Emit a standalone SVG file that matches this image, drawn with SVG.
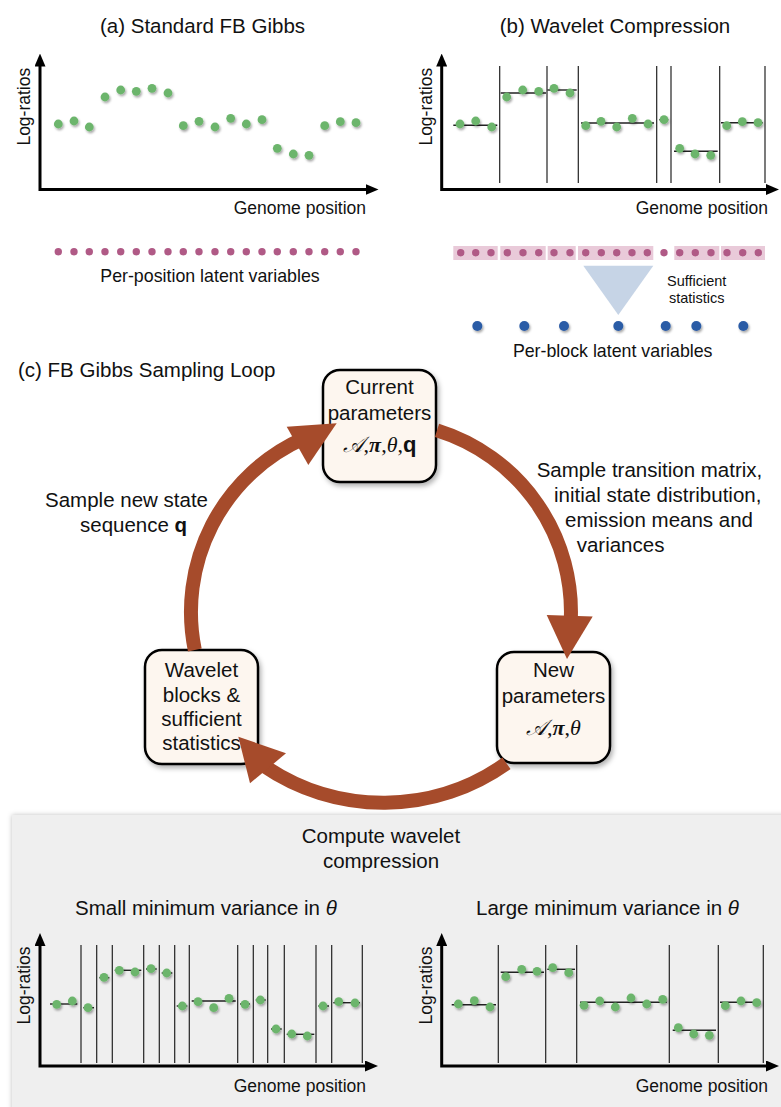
<svg xmlns="http://www.w3.org/2000/svg" width="781" height="1107" viewBox="0 0 781 1107">
<defs>
<style>
text{font-family:"Liberation Sans",Arial,sans-serif;fill:#111}
.t{font-size:20.5px}
.s{font-size:17.5px}
.m{font-size:17.8px}
.xs{font-size:14.5px}
.c{text-anchor:middle}
.mt{font-size:22px}
.ax{fill:none;stroke:#000;stroke-width:3;marker-start:url(#ah);marker-end:url(#ah)}
.g{fill:#6cb56c;filter:url(#ds)}
.p{fill:#b05a86}
.b{fill:#2b5ca6;filter:url(#ds)}
.blk{fill:#e9cad9}
.seg{stroke:#222;stroke-width:1.4}
.vl{stroke:#222;stroke-width:1.2}
.box{fill:#fdf6ef;stroke:#000;stroke-width:2.5;filter:url(#bs)}
.arc{fill:none;stroke:#a64b2b;stroke-width:14}
.head{fill:#a64b2b}
.ser{font-family:"Liberation Serif","DejaVu Serif",serif}
</style>
<marker id="ah" viewBox="0 0 13 11" refX="3" refY="5.5" markerWidth="13" markerHeight="11" markerUnits="userSpaceOnUse" orient="auto-start-reverse"><path d="M0,0 L13,5.5 L0,11 z" fill="#000"/></marker>
<filter id="ds" x="-60%" y="-60%" width="220%" height="220%"><feDropShadow dx="1.2" dy="1.8" stdDeviation="1.2" flood-color="#000" flood-opacity="0.35"/></filter>
<filter id="bs" x="-20%" y="-20%" width="140%" height="140%"><feDropShadow dx="2" dy="3" stdDeviation="2.5" flood-color="#000" flood-opacity="0.3"/></filter>
<filter id="ps" x="-5%" y="-5%" width="110%" height="110%"><feDropShadow dx="0" dy="0" stdDeviation="2.5" flood-color="#000" flood-opacity="0.25"/></filter>
</defs>
<rect width="781" height="1107" fill="#fff"/>

<!-- Panel (a) -->
<g id="panel-a">
<text class="t c" x="202.5" y="33">(a) Standard FB Gibbs</text>
<polyline class="ax" points="40,63.5 40,189.5 368.5,189.5"/>
<text class="s c" transform="translate(30,106.7) rotate(-90)">Log-ratios</text>
<text class="s" x="366" y="214" text-anchor="end">Genome position</text>
<g>
<circle class="g" cx="58.3" cy="124" r="4.4"/><circle class="g" cx="74" cy="121" r="4.4"/><circle class="g" cx="89.3" cy="127" r="4.4"/><circle class="g" cx="105" cy="97" r="4.4"/><circle class="g" cx="120.7" cy="90" r="4.4"/><circle class="g" cx="136.3" cy="91.3" r="4.4"/><circle class="g" cx="152" cy="88.3" r="4.4"/><circle class="g" cx="168" cy="93" r="4.4"/><circle class="g" cx="183.3" cy="125.7" r="4.4"/><circle class="g" cx="199" cy="121.3" r="4.4"/><circle class="g" cx="215" cy="127" r="4.4"/><circle class="g" cx="230.7" cy="118.3" r="4.4"/><circle class="g" cx="246.3" cy="124" r="4.4"/><circle class="g" cx="262" cy="119.7" r="4.4"/><circle class="g" cx="277.3" cy="148.3" r="4.4"/><circle class="g" cx="293.3" cy="154" r="4.4"/><circle class="g" cx="309" cy="155.3" r="4.4"/><circle class="g" cx="324.7" cy="125.7" r="4.4"/><circle class="g" cx="340.3" cy="121.7" r="4.4"/><circle class="g" cx="356" cy="122.7" r="4.4"/>
</g>
<g>
<circle class="p" cx="58.3" cy="251.7" r="3.7"/><circle class="p" cx="74" cy="251.7" r="3.7"/><circle class="p" cx="89.3" cy="251.7" r="3.7"/><circle class="p" cx="105" cy="251.7" r="3.7"/><circle class="p" cx="120.7" cy="251.7" r="3.7"/><circle class="p" cx="136.3" cy="251.7" r="3.7"/><circle class="p" cx="152" cy="251.7" r="3.7"/><circle class="p" cx="168" cy="251.7" r="3.7"/><circle class="p" cx="183.3" cy="251.7" r="3.7"/><circle class="p" cx="199" cy="251.7" r="3.7"/><circle class="p" cx="215" cy="251.7" r="3.7"/><circle class="p" cx="230.7" cy="251.7" r="3.7"/><circle class="p" cx="246.3" cy="251.7" r="3.7"/><circle class="p" cx="262" cy="251.7" r="3.7"/><circle class="p" cx="277.3" cy="251.7" r="3.7"/><circle class="p" cx="293.3" cy="251.7" r="3.7"/><circle class="p" cx="309" cy="251.7" r="3.7"/><circle class="p" cx="324.7" cy="251.7" r="3.7"/><circle class="p" cx="340.3" cy="251.7" r="3.7"/><circle class="p" cx="356" cy="251.7" r="3.7"/>
</g>
<text class="m c" x="210" y="281.7">Per-position latent variables</text>
</g>

<!-- Panel (b) -->
<g id="panel-b">
<text class="t c" x="615" y="33">(b) Wavelet Compression</text>
<g>
<line class="vl" x1="499.7" y1="66" x2="499.7" y2="183"/><line class="vl" x1="547" y1="66" x2="547" y2="183"/><line class="vl" x1="578.3" y1="66" x2="578.3" y2="183"/><line class="vl" x1="656.7" y1="66" x2="656.7" y2="183"/><line class="vl" x1="671" y1="66" x2="671" y2="183"/><line class="vl" x1="719.7" y1="66" x2="719.7" y2="183"/><line class="vl" x1="765" y1="66" x2="765" y2="183"/>
</g>
<polyline class="ax" points="441.7,63.5 441.7,189.5 769,189.5"/>
<text class="s c" transform="translate(431.5,106.7) rotate(-90)">Log-ratios</text>
<text class="s" x="768" y="214" text-anchor="end">Genome position</text>
<g>
<line class="seg" x1="453.3" y1="125.3" x2="497.3" y2="125.3"/><line class="seg" x1="500.7" y1="93" x2="546" y2="93"/><line class="seg" x1="547.3" y1="90" x2="576.7" y2="90"/><line class="seg" x1="581" y1="123" x2="654" y2="123"/><line class="seg" x1="659.3" y1="119.7" x2="668.3" y2="119.7"/><line class="seg" x1="674" y1="151.3" x2="717.7" y2="151.3"/><line class="seg" x1="721" y1="122.7" x2="762.7" y2="122.7"/>
</g>
<g>
<circle class="g" cx="460" cy="124" r="4.4"/><circle class="g" cx="475.7" cy="121" r="4.4"/><circle class="g" cx="491.7" cy="127" r="4.4"/><circle class="g" cx="506.7" cy="97" r="4.4"/><circle class="g" cx="522.7" cy="90" r="4.4"/><circle class="g" cx="538.7" cy="91.3" r="4.4"/><circle class="g" cx="554" cy="88.3" r="4.4"/><circle class="g" cx="570" cy="93" r="4.4"/><circle class="g" cx="585.7" cy="125.7" r="4.4"/><circle class="g" cx="601" cy="121.3" r="4.4"/><circle class="g" cx="616.7" cy="127" r="4.4"/><circle class="g" cx="632.3" cy="118.3" r="4.4"/><circle class="g" cx="648" cy="124" r="4.4"/><circle class="g" cx="664" cy="119.7" r="4.4"/><circle class="g" cx="679.7" cy="148.3" r="4.4"/><circle class="g" cx="695" cy="154" r="4.4"/><circle class="g" cx="710.7" cy="155.3" r="4.4"/><circle class="g" cx="726.7" cy="125.7" r="4.4"/><circle class="g" cx="742.3" cy="121.7" r="4.4"/><circle class="g" cx="758" cy="122.7" r="4.4"/>
</g>
<g>
<rect class="blk" x="453.3" y="246" width="44.4" height="14"/><rect class="blk" x="500.3" y="246" width="45.4" height="14"/><rect class="blk" x="547.7" y="246" width="28" height="14"/><rect class="blk" x="578" y="246" width="75.3" height="14"/><rect class="blk" x="674.3" y="246" width="45" height="14"/><rect class="blk" x="721" y="246" width="44" height="14"/>
</g>
<g>
<circle class="p" cx="460.7" cy="252.7" r="3.7"/><circle class="p" cx="475.7" cy="252.7" r="3.7"/><circle class="p" cx="491" cy="252.7" r="3.7"/><circle class="p" cx="507.3" cy="252.7" r="3.7"/><circle class="p" cx="523" cy="252.7" r="3.7"/><circle class="p" cx="538.7" cy="252.7" r="3.7"/><circle class="p" cx="554" cy="252.7" r="3.7"/><circle class="p" cx="570" cy="252.7" r="3.7"/><circle class="p" cx="585.7" cy="252.7" r="3.7"/><circle class="p" cx="601.3" cy="252.7" r="3.7"/><circle class="p" cx="616.7" cy="252.7" r="3.7"/><circle class="p" cx="632" cy="252.7" r="3.7"/><circle class="p" cx="647.3" cy="252.7" r="3.7"/><circle class="p" cx="664" cy="252.7" r="3.7"/><circle class="p" cx="679.7" cy="252.7" r="3.7"/><circle class="p" cx="695.3" cy="252.7" r="3.7"/><circle class="p" cx="711" cy="252.7" r="3.7"/><circle class="p" cx="727" cy="252.7" r="3.7"/><circle class="p" cx="742.7" cy="252.7" r="3.7"/><circle class="p" cx="758.3" cy="252.7" r="3.7"/>
</g>
<polygon points="583.3,265.7 653.3,265.7 618.3,315" fill="#c6d4e6"/>
<text class="xs c" x="696.7" y="285.5">Sufficient</text>
<text class="xs c" x="696.7" y="303.3">statistics</text>
<g>
<circle class="b" cx="477.3" cy="326" r="5"/><circle class="b" cx="524.3" cy="326" r="5"/><circle class="b" cx="564" cy="326" r="5"/><circle class="b" cx="618.3" cy="326" r="5"/><circle class="b" cx="665.7" cy="326" r="5"/><circle class="b" cx="696.3" cy="326" r="5"/><circle class="b" cx="743.3" cy="326" r="5"/>
</g>
<text class="m c" x="612.7" y="356.5">Per-block latent variables</text>
</g>

<!-- Panel (c) loop -->
<text class="t" x="18" y="377">(c) FB Gibbs Sampling Loop</text>
<text class="t" x="208" y="507" text-anchor="end">Sample new state</text>
<text class="t" x="80" y="532">sequence <tspan font-weight="bold">q</tspan></text>
<text class="t" x="536.7" y="477">Sample transition matrix,</text>
<text class="t" x="554" y="502">initial state distribution,</text>
<text class="t" x="565" y="527">emission means and</text>
<text class="t" x="576.7" y="552">variances</text>

<g id="node-current">
<rect class="box" x="323" y="370" width="113" height="112" rx="17"/>
<text class="t c" x="379.5" y="394">Current</text>
<text class="t c" x="379.5" y="420">parameters</text>
<text class="mt c" x="379.5" y="452"><tspan class="ser" font-style="italic">𝒜</tspan><tspan class="ser">,</tspan><tspan class="ser" font-style="italic" font-weight="bold">π</tspan><tspan class="ser">,</tspan><tspan class="ser" font-style="italic">θ</tspan><tspan class="ser">,</tspan><tspan font-weight="bold">q</tspan></text>
</g>
<g id="node-new">
<rect class="box" x="497" y="652" width="113" height="111" rx="17"/>
<text class="t c" x="553.5" y="677">New</text>
<text class="t c" x="553.5" y="703">parameters</text>
<text class="mt c" x="553.5" y="735"><tspan class="ser" font-style="italic">𝒜</tspan><tspan class="ser">,</tspan><tspan class="ser" font-style="italic" font-weight="bold">π</tspan><tspan class="ser">,</tspan><tspan class="ser" font-style="italic">θ</tspan></text>
</g>
<g id="node-wavelet">
<rect class="box" x="145" y="650" width="113" height="114" rx="17"/>
<text class="t c" x="201.5" y="677">Wavelet</text>
<text class="t c" x="201.5" y="702">blocks &amp;</text>
<text class="t c" x="201.5" y="726">sufficient</text>
<text class="t c" x="201.5" y="750">statistics</text>
</g>

<g id="connectors">
<path class="arc" d="M194.8,650 A190,190 0 0 1 303.7,438.4"/>
<polygon class="head" points="336.7,423.3 286.7,426.7 308.3,465"/>
<path class="arc" d="M437,430.4 A190,190 0 0 1 570.6,623.6"/>
<polygon class="head" points="567,659 546.7,615 592.7,616.5"/>
<path class="arc" d="M506.5,763.3 A212,212 0 0 1 263.3,765.4"/>
<polygon class="head" points="238.3,736.7 250,783.3 286,753.3"/>
</g>

<!-- Bottom panel -->
<g id="compute-panel">
<rect x="12" y="815" width="780" height="300" fill="#efefef" filter="url(#ps)"/>
<text class="t c" x="381" y="843">Compute wavelet</text>
<text class="t c" x="381" y="868">compression</text>
<text class="t" x="75" y="915">Small minimum variance in <tspan font-style="italic">θ</tspan></text>
<text class="t" x="476" y="915">Large minimum variance in <tspan font-style="italic">θ</tspan></text>

<g>
<line class="vl" x1="81" y1="945" x2="81" y2="1063"/><line class="vl" x1="96.7" y1="945" x2="96.7" y2="1063"/><line class="vl" x1="112.3" y1="945" x2="112.3" y2="1063"/><line class="vl" x1="143.7" y1="945" x2="143.7" y2="1063"/><line class="vl" x1="159.3" y1="945" x2="159.3" y2="1063"/><line class="vl" x1="174.7" y1="945" x2="174.7" y2="1063"/><line class="vl" x1="189.3" y1="945" x2="189.3" y2="1063"/><line class="vl" x1="237.7" y1="945" x2="237.7" y2="1063"/><line class="vl" x1="253.3" y1="945" x2="253.3" y2="1063"/><line class="vl" x1="267.7" y1="945" x2="267.7" y2="1063"/><line class="vl" x1="284.3" y1="945" x2="284.3" y2="1063"/><line class="vl" x1="316" y1="945" x2="316" y2="1063"/><line class="vl" x1="331.7" y1="945" x2="331.7" y2="1063"/><line class="vl" x1="362.3" y1="945" x2="362.3" y2="1063"/>
</g>
<polyline class="ax" points="40,943 40,1066 368,1066"/>
<text class="s c" transform="translate(30,985.5) rotate(-90)">Log-ratios</text>
<text class="s" x="366" y="1092" text-anchor="end">Genome position</text>
<g>
<line class="seg" x1="50" y1="1004" x2="77.3" y2="1004"/><line class="seg" x1="83.3" y1="1007.7" x2="94" y2="1007.7"/><line class="seg" x1="99.3" y1="977.7" x2="109.3" y2="977.7"/><line class="seg" x1="114.7" y1="970.3" x2="141.3" y2="970.3"/><line class="seg" x1="146" y1="969" x2="156.7" y2="969"/><line class="seg" x1="161.7" y1="973" x2="172.3" y2="973"/><line class="seg" x1="176.7" y1="1006" x2="187.3" y2="1006"/><line class="seg" x1="191.7" y1="1001" x2="235.7" y2="1001"/><line class="seg" x1="240" y1="1004" x2="250" y2="1004"/><line class="seg" x1="255.7" y1="1000" x2="265.7" y2="1000"/><line class="seg" x1="271" y1="1029" x2="281.7" y2="1029"/><line class="seg" x1="286.7" y1="1034.3" x2="314.3" y2="1034.3"/><line class="seg" x1="318.3" y1="1006" x2="329" y2="1006"/><line class="seg" x1="333.3" y1="1002.7" x2="360" y2="1002.7"/>
</g>
<g>
<circle class="g" cx="56.7" cy="1004.3" r="4.4"/><circle class="g" cx="72.3" cy="1001" r="4.4"/><circle class="g" cx="88" cy="1007.7" r="4.4"/><circle class="g" cx="104" cy="977.3" r="4.4"/><circle class="g" cx="119.3" cy="970.3" r="4.4"/><circle class="g" cx="135" cy="972" r="4.4"/><circle class="g" cx="151" cy="968.7" r="4.4"/><circle class="g" cx="166.7" cy="973" r="4.4"/><circle class="g" cx="182.3" cy="1006" r="4.4"/><circle class="g" cx="198" cy="1001.7" r="4.4"/><circle class="g" cx="213.7" cy="1007.7" r="4.4"/><circle class="g" cx="229" cy="998.3" r="4.4"/><circle class="g" cx="245" cy="1004.3" r="4.4"/><circle class="g" cx="260.3" cy="1000" r="4.4"/><circle class="g" cx="276" cy="1029" r="4.4"/><circle class="g" cx="291.7" cy="1034" r="4.4"/><circle class="g" cx="307.3" cy="1036" r="4.4"/><circle class="g" cx="323" cy="1006" r="4.4"/><circle class="g" cx="338.7" cy="1001.7" r="4.4"/><circle class="g" cx="355" cy="1003" r="4.4"/>
</g>

<g>
<line class="vl" x1="498.3" y1="945" x2="498.3" y2="1063"/><line class="vl" x1="545.7" y1="945" x2="545.7" y2="1063"/><line class="vl" x1="576.7" y1="945" x2="576.7" y2="1063"/><line class="vl" x1="669.3" y1="945" x2="669.3" y2="1063"/><line class="vl" x1="718.3" y1="945" x2="718.3" y2="1063"/><line class="vl" x1="763.3" y1="945" x2="763.3" y2="1063"/>
</g>
<polyline class="ax" points="441.7,943 441.7,1066 769,1066"/>
<text class="s c" transform="translate(431.5,985.5) rotate(-90)">Log-ratios</text>
<text class="s" x="768" y="1092" text-anchor="end">Genome position</text>
<g>
<line class="seg" x1="451.7" y1="1004.7" x2="496" y2="1004.7"/><line class="seg" x1="500.7" y1="972.3" x2="544" y2="972.3"/><line class="seg" x1="547.3" y1="969.3" x2="575" y2="969.3"/><line class="seg" x1="580" y1="1002.3" x2="666.7" y2="1002.3"/><line class="seg" x1="672.7" y1="1030.3" x2="716" y2="1030.3"/><line class="seg" x1="720" y1="1002.3" x2="761" y2="1002.3"/>
</g>
<g>
<circle class="g" cx="458.3" cy="1004" r="4.4"/><circle class="g" cx="474.3" cy="1000.7" r="4.4"/><circle class="g" cx="490" cy="1007" r="4.4"/><circle class="g" cx="505.7" cy="976.7" r="4.4"/><circle class="g" cx="521.7" cy="969.3" r="4.4"/><circle class="g" cx="537" cy="971.3" r="4.4"/><circle class="g" cx="552.7" cy="967.7" r="4.4"/><circle class="g" cx="568.7" cy="972.7" r="4.4"/><circle class="g" cx="584" cy="1005.3" r="4.4"/><circle class="g" cx="599.7" cy="1001" r="4.4"/><circle class="g" cx="615.3" cy="1007" r="4.4"/><circle class="g" cx="631" cy="998" r="4.4"/><circle class="g" cx="646.7" cy="1004" r="4.4"/><circle class="g" cx="662.7" cy="999.3" r="4.4"/><circle class="g" cx="678.3" cy="1027.7" r="4.4"/><circle class="g" cx="693.7" cy="1034" r="4.4"/><circle class="g" cx="709.3" cy="1035.3" r="4.4"/><circle class="g" cx="725.3" cy="1005.7" r="4.4"/><circle class="g" cx="741" cy="1001" r="4.4"/><circle class="g" cx="756.7" cy="1002.7" r="4.4"/>
</g>
</g>
</svg>
